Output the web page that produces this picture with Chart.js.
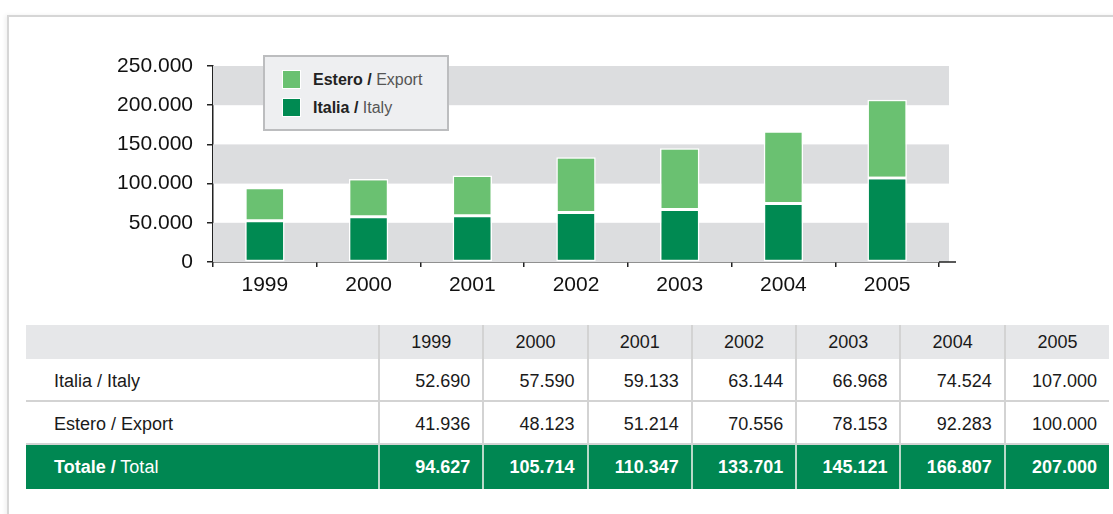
<!DOCTYPE html>
<html>
<head>
<meta charset="utf-8">
<script src="https://cdn.jsdelivr.net/npm/chart.js@4.4.1/dist/chart.umd.min.js"></script>
<style>
    html, body { margin: 0; padding: 0; background: #fff; overflow: hidden; }
    body { width: 1113px; height: 514px; position: relative; font-family: "Liberation Sans", Arial, Helvetica, sans-serif; color: #222; }
    .frame { position: absolute; left: 7px; top: 15px; width: 1200px; height: 600px; border: 2px solid #d6d6d6; box-shadow: -2px 0 4px rgba(0,0,0,0.06); }
    #chartBox { position: absolute; left: 0; top: 0; width: 1113px; height: 310px; }
    .legend { position: absolute; left: 263px; top: 55px; width: 182px; height: 72px; background: #eeeff1; border: 2px solid #bcbdbf; }
    .legend .item { position: absolute; left: 17px; font-size: 16px; line-height: 20px; color: #222; }
    .legend .sw { display: inline-block; width: 19px; height: 19px; vertical-align: top; margin-right: 12px; border: 1px solid #fff; box-sizing: border-box; }
    .legend b { font-weight: bold; }
    .legend span.en { color: #555; }
    table.data { position: absolute; left: 26px; top: 325px; border-collapse: collapse; font-size: 18px; table-layout: fixed; color: #1a1a1a; }
    table.data td { padding: 0 12px 0 0; text-align: right; border-left: 2px solid #d3d3d3; }
    table.data td.lab { text-align: left; padding-left: 28px; border-left: none; }
    table.data tr.head td { background: #e6e7e9; height: 34px; text-align: center; padding: 0; }
    table.data tr.row td { height: 38px; padding-top: 3px; border-bottom: 2px solid #d3d3d3; }
    table.data tr.tot td { background: #008752; color: #fff; font-weight: bold; height: 44px; border-left-color: #b9d9c9; }
    table.data tr.tot td.lab span { font-weight: normal; }
</style>
</head>
<body>
<div class="frame"></div>
<div id="chartBox"><canvas id="prodChart" width="1113" height="310"></canvas></div>
<div class="legend" id="legend"></div>
<table class="data" id="dataTable"></table>

<script>
    var years   = ['1999', '2000', '2001', '2002', '2003', '2004', '2005'];
    var italia  = [52690, 57590, 59133, 63144, 66968, 74524, 107000];
    var estero  = [41936, 48123, 51214, 70556, 78153, 92283, 100000];
    var totale  = [94627, 105714, 110347, 133701, 145121, 166807, 207000];
    var yTicks  = [0, 50000, 100000, 150000, 200000, 250000];

    var darkGreen  = '#008a52';
    var lightGreen = '#6ac171';

    function fmt(v) {
        return String(v).replace(/\B(?=(\d{3})+(?!\d))/g, '.');
    }

    // grey bands behind the bars, every other 50.000 step
    var bandsPlugin = {
        id: 'bands',
        beforeDatasetsDraw: function (chart) {
            var ctx = chart.ctx, a = chart.chartArea, y = chart.scales.y;
            ctx.save();
            ctx.fillStyle = '#dcdddf';
            for (var i = 0; i < yTicks.length - 1; i += 2) {
                var top = y.getPixelForValue(yTicks[i + 1]);
                var bot = y.getPixelForValue(yTicks[i]);
                ctx.fillRect(a.left, top, a.right - a.left + 10, bot - top);
            }
            ctx.restore();
        },
        afterDraw: function (chart) {
            var ctx = chart.ctx, a = chart.chartArea;
            ctx.save();
            ctx.strokeStyle = '#222';
            ctx.lineWidth = 1.5;
            ctx.beginPath();
            ctx.moveTo(a.right, a.bottom);
            ctx.lineTo(a.right + 17, a.bottom);
            ctx.stroke();
            ctx.restore();
        }
    };

    var chart = new Chart(document.getElementById('prodChart').getContext('2d'), {
        type: 'bar',
        data: {
            labels: years,
            datasets: [{
                label: 'Italia / Italy',
                data: italia,
                backgroundColor: darkGreen,
                borderColor: '#fff',
                borderWidth: 1.5,
                borderSkipped: false
            }, {
                label: 'Estero / Export',
                data: estero,
                backgroundColor: lightGreen,
                borderColor: '#fff',
                borderWidth: 1.5,
                borderSkipped: false
            }]
        },
        options: {
            responsive: false,
            animation: false,
            layout: { padding: { top: 66, right: 174, left: 0, bottom: 0 } },
            datasets: { bar: { categoryPercentage: 1, barPercentage: 0.38 } },
            plugins: { legend: { display: false }, tooltip: { enabled: false } },
            scales: {
                x: {
                    stacked: true,
                    afterFit: function (s) { s.height = 48; },
                    grid: { offset: true, drawOnChartArea: false, drawTicks: true, tickLength: 5, color: '#222', lineWidth: 1.5 },
                    border: { display: true, color: '#222', width: 1.5 },
                    ticks: { color: '#111', font: { family: '"Liberation Sans", Arial, sans-serif', size: 21 }, padding: 6 }
                },
                y: {
                    stacked: true,
                    min: 0,
                    max: 250000,
                    afterFit: function (s) { s.width = 213; },
                    afterBuildTicks: function (s) { s.ticks = yTicks.map(function (v) { return { value: v }; }); },
                    grid: { drawOnChartArea: false, drawTicks: true, tickLength: 6, color: '#222', lineWidth: 1.5 },
                    border: { display: true, color: '#222', width: 1.5 },
                    ticks: {
                        color: '#111',
                        font: { family: '"Liberation Sans", Arial, sans-serif', size: 21 },
                        padding: 14,
                        callback: function (v) { return fmt(v); }
                    }
                }
            }
        },
        plugins: [bandsPlugin]
    });

    // legend (Estero on top, as in the original)
    var legendItems = [
        { bold: 'Estero /', en: ' Export', color: lightGreen, top: 13 },
        { bold: 'Italia /', en: ' Italy', color: darkGreen, top: 41 }
    ];
    document.getElementById('legend').innerHTML = legendItems.map(function (it) {
        return '<div class="item" style="top:' + it.top + 'px"><span class="sw" style="background:' + it.color + '"></span>' +
            '<b>' + it.bold + '</b><span class="en">' + it.en + '</span></div>';
    }).join('');

    // table below the chart
    var html = '<colgroup><col style="width:353px">' + years.map(function () { return '<col style="width:104.3px">'; }).join('') + '</colgroup>';
    html += '<tr class="head"><td class="lab"></td>' + years.map(function (y) { return '<td>' + y + '</td>'; }).join('') + '</tr>';
    html += '<tr class="row"><td class="lab">Italia / Italy</td>' + italia.map(function (v) { return '<td>' + fmt(v) + '</td>'; }).join('') + '</tr>';
    html += '<tr class="row"><td class="lab">Estero / Export</td>' + estero.map(function (v) { return '<td>' + fmt(v) + '</td>'; }).join('') + '</tr>';
    html += '<tr class="tot"><td class="lab">Totale /<span> Total</span></td>' + totale.map(function (v) { return '<td>' + fmt(v) + '</td>'; }).join('') + '</tr>';
    document.getElementById('dataTable').innerHTML = html;
</script>
</body>
</html>
